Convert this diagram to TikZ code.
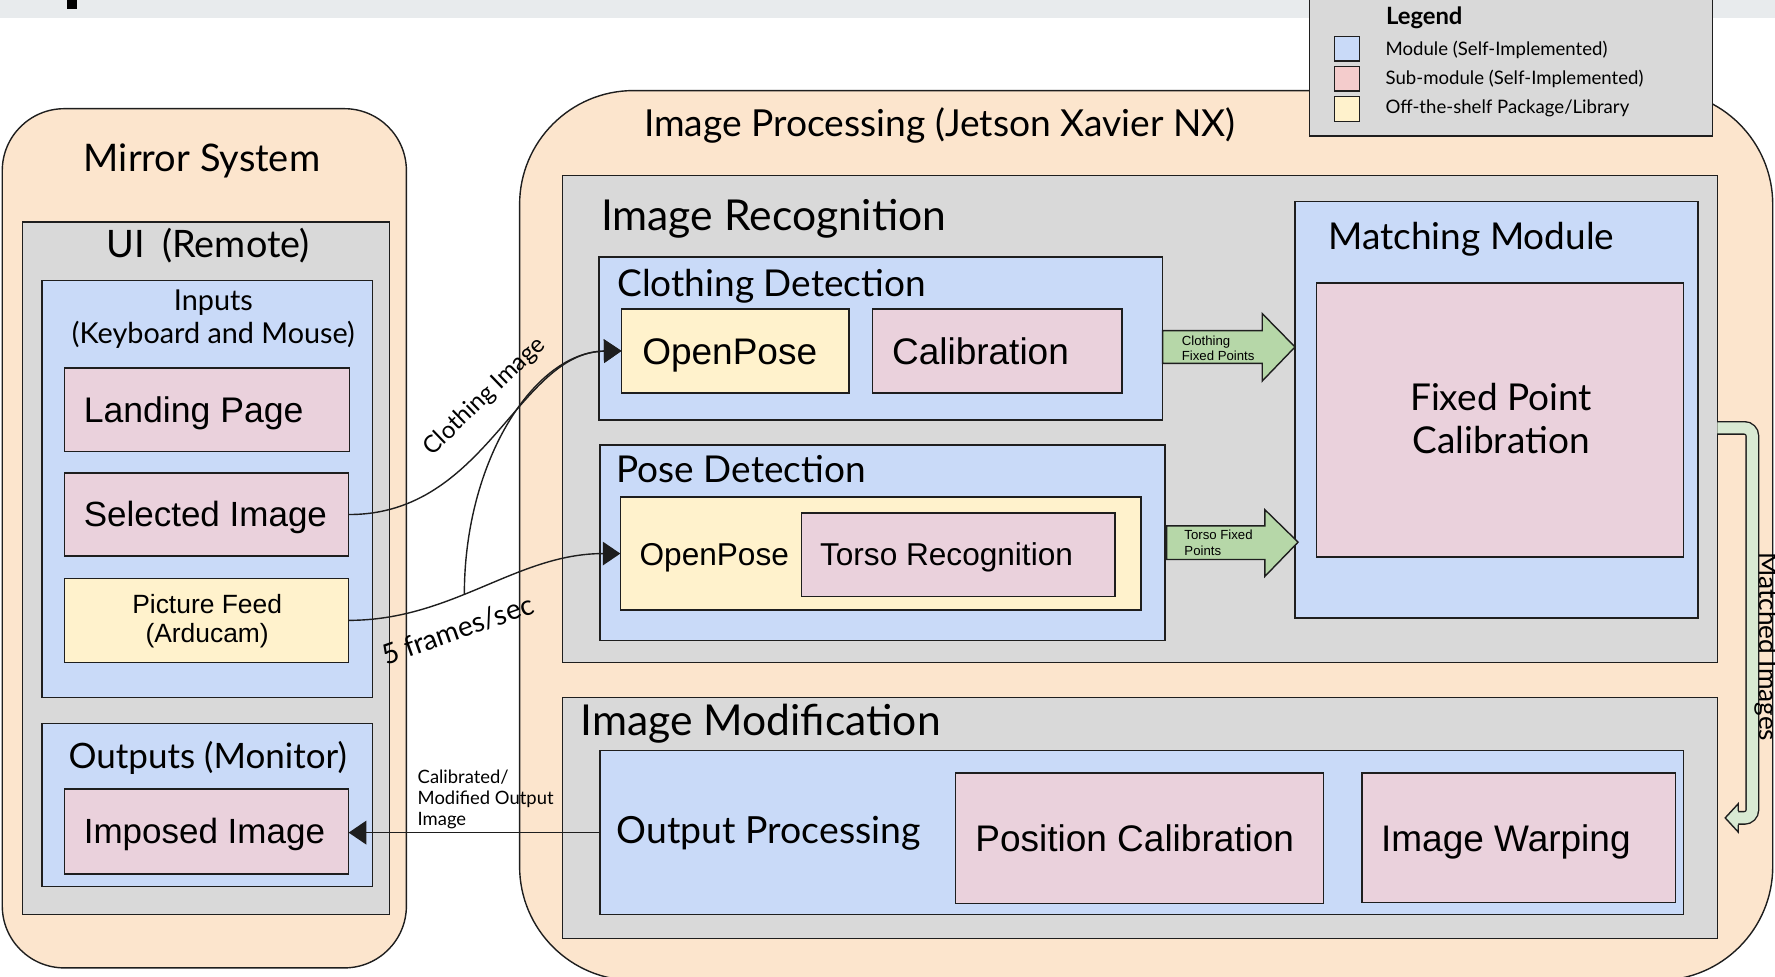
\documentclass[tikz,border=0pt]{standalone}
\usepackage{fontspec}
\setmainfont{Lato}
\newfontfamily\arialf{Liberation Sans}
\usetikzlibrary{arrows.meta}
\definecolor{cPeach}{HTML}{FCE5CD}
\definecolor{cGray}{HTML}{D9D9D9}
\definecolor{cBlue}{HTML}{C9DAF8}
\definecolor{cPink}{HTML}{EAD1DC}
\definecolor{cYellow}{HTML}{FFF2CC}
\definecolor{cGreen}{HTML}{B6D7A8}
\definecolor{cLGreen}{HTML}{D9EAD3}
\definecolor{cRed}{HTML}{F4CCCC}
\definecolor{cBand}{HTML}{E8EBED}
\definecolor{cLine}{HTML}{1E1E1E}
\newcommand\fsz[1]{\fontsize{#1pt}{1.2\dimexpr #1pt\relax}\selectfont}
\newcommand\bx[6]{\node[#1, minimum width={(#5-#3)*0.566pt}, minimum height={(#6-#4)*0.566pt}] (#2) at (#3,#4) {};}
\tikzset{
  ln/.style={draw=cLine, line width=0.7pt},
  bxs/.style={ln, inner sep=0pt, outer sep=0pt, anchor=north west},
  peachbox/.style={bxs, fill=cPeach, rounded corners=#1},
  graybox/.style={bxs, fill=cGray},
  bluebox/.style={bxs, fill=cBlue},
  pinkbox/.style={bxs, fill=cPink},
  yellowbox/.style={bxs, fill=cYellow},
  redbox/.style={bxs, fill=cRed},
  tx/.style={inner sep=0pt, outer sep=0pt, font=\fsz{#1}},
  atx/.style={inner sep=0pt, outer sep=0pt, font=\arialf\fsz{#1}},
  conn/.style={ln, -{Triangle[length=8.8pt,width=11.8pt]}},
  blockarrow/.style={ln, fill=cGreen, line join=miter},
}
\begin{document}
\begin{tikzpicture}[x=0.566pt, y=-0.566pt]
\useasboundingbox (0,0) rectangle (1568,863);
% top band
\fill[cBand] (0,0) rectangle (1568,16);
\fill[black] (59,0) rectangle (68,8);
% main containers
\bx{peachbox=57pt}{ip}{459}{80}{1566}{866}
\bx{graybox}{legend}{1157}{-5}{1513}{120}
\bx{peachbox=31pt}{mirror}{2}{96}{359}{855}
% mirror system
\bx{graybox}{ui}{20}{196}{344}{808}
\bx{bluebox}{inputs}{37}{248}{329}{616}
\bx{pinkbox}{landing}{57}{325}{309}{399}
\bx{pinkbox}{selimg}{57}{418}{308}{491}
\bx{yellowbox}{feed}{57}{511}{308}{585}
\bx{bluebox}{outputs}{37}{639}{329}{783}
\bx{pinkbox}{imposed}{57}{697}{308}{772}
% image recognition
\bx{graybox}{imgrec}{497}{155}{1517}{585}
\bx{bluebox}{clothdet}{529}{227}{1027}{371}
\bx{yellowbox}{opA}{549}{273}{750}{347}
\bx{pinkbox}{calib}{771}{273}{991}{347}
\bx{bluebox}{posedet}{530}{393}{1029}{566}
\bx{yellowbox}{opB}{548}{439}{1008}{539}
\bx{pinkbox}{torso}{708}{453}{985}{527}
\bx{bluebox}{match}{1144}{178}{1500}{546}
\bx{pinkbox}{fpc}{1163}{250}{1487}{492}
% image modification
\bx{graybox}{imgmod}{497}{616}{1517}{829}
\bx{bluebox}{outproc}{530}{663}{1487}{808}
\bx{pinkbox}{poscal}{844}{683}{1169}{798}
\bx{pinkbox}{warp}{1203}{683}{1480}{797}
% legend
\bx{bluebox}{lgA}{1179}{32}{1201}{54}
\bx{redbox}{lgB}{1179}{58.5}{1201}{80.5}
\bx{yellowbox}{lgC}{1179}{85.5}{1201}{107.5}
\node[inner sep=0pt, anchor=base west, font=\fsz{11.9}\bfseries] (tlg) at (1224,22) {Legend};
\node[tx=9.3, anchor=base west] (tlgA) at (1224,48.6) {Module (Self-Implemented)};
\node[tx=9.3, anchor=base west] (tlgB) at (1224,74.6) {Sub-module (Self-Implemented)};
\node[tx=9.3, anchor=base west] (tlgC) at (1224,100.6) {Off-the-shelf Package/Library};
% texts: mirror system
\node[tx=19, anchor=base] (tmirror) at (178.5,151.7) {Mirror System};
\node[tx=18.9, anchor=base] (tui) at (184,227.6) {UI\hspace{0.45em}(Remote)};
\node[tx=14.4, anchor=base] (tinA) at (188.5,273.9) {Inputs};
\node[tx=14.4, anchor=base] (tinB) at (188.5,303) {(Keyboard and Mouse)};
\node[atx=17.8, anchor=base west] (tlanding) at (74,373.3) {Landing Page};
\node[atx=17.5, anchor=base west] (tselimg) at (74,465.2) {Selected Image};
\node[atx=13.2, anchor=base] (tfeedA) at (183,541.5) {Picture Feed};
\node[atx=13.2, anchor=base] (tfeedB) at (183,568) {(Arducam)};
\node[tx=17.5, anchor=base] (toutputs) at (183.5,678.8) {Outputs (Monitor)};
\node[atx=17.5, anchor=base west] (timposed) at (74,745.4) {Imposed Image};
% texts: image processing
\node[tx=18.6, anchor=base west] (tip) at (569,121) {Image Processing (Jetson Xavier NX)};
\node[tx=21.3, anchor=base west] (timgrec) at (531,203.8) {Image Recognition};
\node[tx=18.5, anchor=base west] (tclothdet) at (545.4,262) {Clothing Detection};
\node[atx=18.5, anchor=base west] (topA) at (567.4,322.4) {OpenPose};
\node[atx=18.5, anchor=base west] (tcalib) at (788,322.4) {Calibration};
\node[tx=18.5, anchor=base west] (tposedet) at (544.7,426.4) {Pose Detection};
\node[atx=15.8, anchor=base west] (topB) at (565,499.1) {OpenPose};
\node[atx=15.8, anchor=base west] (ttorso) at (724.4,499.1) {Torso Recognition};
\node[tx=18.5, anchor=base west] (tmatch) at (1173.4,220.8) {Matching Module};
\node[tx=18.5, anchor=base] (tfpcA) at (1326,362.2) {Fixed Point};
\node[tx=18.5, anchor=base] (tfpcB) at (1326,401) {Calibration};
\node[tx=21.3, anchor=base west] (timgmod) at (513,649.3) {Image Modification};
\node[tx=18.7, anchor=base west] (toutproc) at (545,745) {Output Processing};
\node[atx=18.5, anchor=base west] (tposcal) at (861.6,752.4) {Position Calibration};
\node[atx=18.5, anchor=base west] (twarp) at (1220,752.4) {Image Warping};
% block arrows
\draw[blockarrow] (clothdet.east |- 0,292) -- (1115,292) -- (1115,277) -- (match.west |- 0,306.5) -- (1115,336.6) -- (1115,321) -- (clothdet.east |- 0,321) -- cycle;
\node[atx=6.6, anchor=base west] (tcfpA) at (1044,304.8) {Clothing};
\node[atx=6.6, anchor=base west] (tcfpB) at (1044,318.5) {Fixed Points};
\draw[blockarrow] (1030.7,464.5) -- (1117.4,464.5) -- (1117.4,450.3) -- (1146.7,478.9) -- (1117.4,509.1) -- (1117.4,494.2) -- (1030.7,494.2) -- cycle;
\node[atx=6.6, anchor=base west] (ttfpA) at (1046.3,477) {Torso Fixed};
\node[atx=6.6, anchor=base west] (ttfpB) at (1046.3,490.8) {Points};
% matched images arrow
\coordinate (mA) at (imgrec.east |- 0,378);
\coordinate (mB) at (1535,722.5);
\draw[draw=cLine, line width=6.9pt, rounded corners=4pt] (mA) -- (1548,378) -- (1548,722.5) -- (mB);
\draw[draw=cLGreen, line width=5.5pt, rounded corners=4pt] (mA) -- (1548,378) -- (1548,722.5) -- (mB);
\fill[cLGreen] (1535.5,710) -- (1524,722.5) -- (1535.5,735) -- cycle;
\draw[ln] (1535.5,716.4) -- (1535.5,710) -- (1524,722.5) -- (1535.5,735) -- (1535.5,728.6);
\node[tx=13.1, rotate=-90, anchor=base west] (tmatched) at (1554,488) {Matched Images};
% connectors
\draw[conn] (selimg.east) .. controls (430,455) and (458,311) .. (opA.west);
\draw[conn] (feed.east) .. controls (400,548) and (456,489) .. coordinate[pos=0.42] (br) (opB.west);
\draw[conn] (br) .. controls (410,407) and (472,311) .. (opA.west);
\draw[conn] (outproc.west) -- (outproc.west -| imposed.east);
\node[tx=12, rotate=44, anchor=base west] (tclimg) at (382,403) {Clothing Image};
\node[tx=14, rotate=19.5, anchor=base west] (tfps) at (341,588) {5 frames/sec};
\node[tx=9.2, anchor=base west] (tcalA) at (369,692) {Calibrated/};
\node[tx=9.2, anchor=base west] (tcalB) at (369,711) {Modified Output};
\node[tx=9.2, anchor=base west] (tcalC) at (369,729) {Image};
\end{tikzpicture}
\end{document}
